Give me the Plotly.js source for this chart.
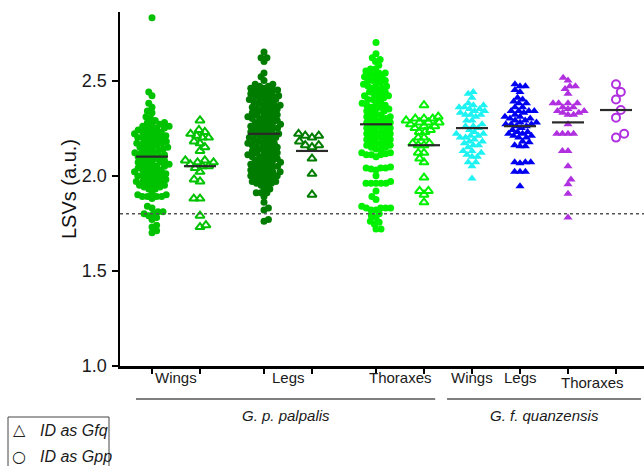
<!DOCTYPE html>
<html><head><meta charset="utf-8">
<script src="https://cdn.plot.ly/plotly-3.0.1.min.js"></script>
<style>html,body{margin:0;padding:0;background:#fff}</style>
</head><body><div id="chart" style="width:644px;height:466px"></div>
<script>
// ---------------- DATA ----------------
const tissues = ['Wings', 'Legs', 'Thoraxes', 'Wings', 'Legs', 'Thoraxes'];
const speciesLabels = ['G. p. palpalis', 'G. f. quanzensis'];
const legendLabels = ['ID as Gfq', 'ID as Gpp'];

// G. p. palpalis
const gppWingsIdGpp = [2.83, 2.44, 2.42, 2.38, 2.36, 2.34, 2.33, 2.31, 2.30, 2.29,
  2.28, 2.28, 2.27, 2.27, 2.26, 2.26, 2.25, 2.25, 2.25, 2.24, 2.24, 2.23, 2.23, 2.22, 2.22, 2.22,
  2.21, 2.21, 2.20, 2.20, 2.20, 2.19, 2.19, 2.18, 2.18, 2.17, 2.17, 2.17, 2.16, 2.16, 2.15, 2.15,
  2.15, 2.14, 2.14, 2.13, 2.13, 2.12, 2.12, 2.12, 2.11, 2.11, 2.10, 2.10, 2.10, 2.09, 2.09, 2.08,
  2.08, 2.07, 2.07, 2.07, 2.06, 2.06, 2.05, 2.05, 2.05, 2.04, 2.04, 2.03, 2.03, 2.02, 2.02, 2.02,
  2.01, 2.01, 2.00, 2.00, 2.00, 1.99, 1.99, 1.98, 1.98, 1.97, 1.97, 1.97, 1.96, 1.96, 1.95, 1.95,
  1.95, 1.94, 1.94, 1.93, 1.93,
  1.91, 1.90, 1.90, 1.89, 1.89, 1.89, 1.89, 1.88, 1.84, 1.83, 1.81, 1.81, 1.80, 1.80, 1.79, 1.78,
  1.77, 1.74, 1.73, 1.71, 1.70];
const gppWingsIdGfq = [2.29, 2.24, 2.23, 2.22, 2.21, 2.20, 2.20, 2.18, 2.17, 2.15, 2.13, 2.08, 2.08,
  2.07, 2.07, 2.06, 2.05, 2.05, 2.04, 2.02, 1.98, 1.97, 1.88, 1.88, 1.79, 1.74, 1.73];
const gppLegsIdGpp = [2.65, 2.62, 2.62, 2.60, 2.54, 2.52, 2.50, 2.48, 2.48, 2.47, 2.47,
  2.46, 2.46, 2.45, 2.45, 2.45, 2.44, 2.44, 2.43, 2.43, 2.42, 2.42, 2.42, 2.41, 2.41, 2.40, 2.40,
  2.40, 2.39, 2.39, 2.38, 2.38, 2.37, 2.37, 2.37, 2.36, 2.36, 2.35, 2.35, 2.35, 2.34, 2.34, 2.33,
  2.33, 2.32, 2.32, 2.32, 2.31, 2.31, 2.30, 2.30, 2.30, 2.29, 2.29, 2.28, 2.28, 2.27, 2.27, 2.27,
  2.26, 2.26, 2.25, 2.25, 2.25, 2.24, 2.24, 2.23, 2.23, 2.22, 2.22, 2.22, 2.21, 2.21, 2.20, 2.20,
  2.20, 2.19, 2.19, 2.18, 2.18, 2.17, 2.17, 2.17, 2.16, 2.16, 2.15, 2.15, 2.15, 2.14, 2.14, 2.13,
  2.13, 2.12, 2.12, 2.12, 2.11, 2.11, 2.10, 2.10, 2.10, 2.09, 2.09, 2.08, 2.08, 2.07, 2.07, 2.07,
  2.06, 2.06, 2.05, 2.05, 2.05, 2.04, 2.04, 2.03, 2.03, 2.02, 2.02, 2.02, 2.01, 2.01, 2.00, 2.00,
  2.00, 1.99, 1.99, 1.98, 1.98, 1.97, 1.97, 1.97, 1.96, 1.96, 1.95, 1.95,
  1.93, 1.93, 1.91, 1.91, 1.91, 1.89, 1.86, 1.83, 1.82, 1.77, 1.76];
const gppLegsIdGfq = [2.22, 2.21, 2.21, 2.20, 2.18, 2.16, 2.16, 2.15, 2.09, 2.01, 1.90];
const gppThoraxIdGpp = [2.70, 2.64, 2.62, 2.61, 2.60, 2.58, 2.56, 2.56,
  2.55, 2.54, 2.54, 2.53, 2.53, 2.52, 2.52, 2.51, 2.50, 2.50, 2.50, 2.49, 2.48,
  2.48, 2.47, 2.47, 2.46, 2.46, 2.45, 2.44, 2.44, 2.43, 2.43, 2.42, 2.42, 2.41,
  2.41, 2.40, 2.40, 2.39, 2.38, 2.38, 2.37, 2.37, 2.36, 2.36, 2.35, 2.35,
  2.34, 2.34, 2.33, 2.32, 2.32, 2.31, 2.31, 2.30, 2.30, 2.29, 2.29, 2.28, 2.28,
  2.27, 2.27, 2.26, 2.26, 2.25, 2.25, 2.24, 2.24, 2.23, 2.23, 2.22, 2.22, 2.21, 2.21,
  2.20, 2.20, 2.19, 2.19, 2.18, 2.18, 2.17, 2.17, 2.16, 2.16, 2.15, 2.15, 2.14, 2.14,
  2.12, 2.12, 2.115, 2.11, 2.11, 2.11, 2.10, 2.045, 2.04, 2.04, 2.04, 2.035, 2.03, 2.00, 1.97,
  1.96, 1.96, 1.96, 1.96, 1.96, 1.92, 1.89, 1.875, 1.84, 1.83, 1.83, 1.83, 1.83, 1.82, 1.82,
  1.80, 1.79, 1.78, 1.76, 1.755, 1.745, 1.72, 1.72];
const gppThoraxIdGfq = [2.37, 2.31, 2.30, 2.30, 2.30, 2.29, 2.28, 2.28, 2.28, 2.27, 2.26, 2.26,
  2.25, 2.24, 2.23, 2.23, 2.20, 2.20, 2.17, 2.17, 2.16, 2.16, 2.12, 2.12, 2.09, 2.07, 1.99,
  1.92, 1.92, 1.90, 1.86];
// G. f. quanzensis
const gfqWingsIdGfq = [2.44, 2.43, 2.41, 2.38, 2.37, 2.37, 2.36, 2.36, 2.35, 2.35, 2.34, 2.34,
  2.33, 2.32, 2.32, 2.32, 2.31, 2.29, 2.29, 2.27, 2.26, 2.26, 2.25, 2.24, 2.23, 2.22, 2.22, 2.21,
  2.21, 2.20, 2.20, 2.19, 2.18, 2.18, 2.17, 2.16, 2.16, 2.15, 2.13, 2.13, 2.12, 2.11, 2.10, 2.10,
  2.07, 2.07, 2.05, 1.985];
const gfqLegsIdGfq = [2.48, 2.47, 2.47, 2.45, 2.44, 2.41, 2.40, 2.39, 2.38, 2.38, 2.36, 2.36,
  2.34, 2.34, 2.34, 2.34, 2.33, 2.32, 2.31, 2.31, 2.30, 2.30, 2.29, 2.29, 2.28, 2.28, 2.27, 2.27,
  2.27, 2.26, 2.26, 2.25, 2.24, 2.23, 2.23, 2.22, 2.22, 2.21, 2.21, 2.20, 2.20, 2.18, 2.175,
  2.16, 2.155, 2.155, 2.07, 2.07, 2.07, 2.065, 2.02, 2.02, 2.02, 1.945];
const gfqThoraxIdGfq = [2.515, 2.50, 2.47, 2.47, 2.455, 2.43, 2.38, 2.38, 2.38, 2.38, 2.36, 2.36,
  2.35, 2.34, 2.34, 2.33, 2.33, 2.32, 2.32, 2.27, 2.22, 2.22, 2.22, 2.22, 2.13, 2.13, 2.05, 1.98,
  1.955, 1.905, 1.78];
const gfqThoraxIdGpp = [2.48, 2.44, 2.40, 2.345, 2.305, 2.22, 2.20];

// medians (horizontal bars)
const medians = [2.10, 2.05, 2.22, 2.13, 2.27, 2.16, 2.25, 2.26, 2.28, 2.345];
const threshold = 1.8;

const columns = [gppWingsIdGpp, gppWingsIdGfq, gppLegsIdGpp, gppLegsIdGfq, gppThoraxIdGpp,
  gppThoraxIdGfq, gfqWingsIdGfq, gfqLegsIdGfq, gfqThoraxIdGfq, gfqThoraxIdGpp];
const columnTissue = [0, 0, 1, 1, 2, 2, 3, 4, 5, 5];
const columnSpecies = [0, 0, 0, 0, 0, 0, 1, 1, 1, 1];

// ---------------- LAYOUT / STYLE ----------------
const W = 644, H = 466;
const M = {l: 120, r: 0, t: 12, b: 100};
const xRange = [-2, 30.75];
const yRange = [1, 2.86];
const slots = [0, 3, 7, 10, 14, 17, 20, 23, 26, 29];
const styles = [
  {color: '#00c200', symbol: 'circle', size: 7, lw: 0, swarm: 5.0},
  {color: '#00c200', symbol: 'triangle-up-open', size: 8, lw: 2, swarm: 6.2},
  {color: '#007d00', symbol: 'circle', size: 7, lw: 0, swarm: 4.8},
  {color: '#007d00', symbol: 'triangle-up-open', size: 8, lw: 2, swarm: 7},
  {color: '#00f000', symbol: 'circle', size: 7, lw: 0, swarm: 5.0},
  {color: '#00f000', symbol: 'triangle-up-open', size: 8, lw: 2, swarm: 5.8},
  {color: '#1ef2f2', symbol: 'triangle-up', size: 8, lw: 0, swarm: 5.4},
  {color: '#0000f0', symbol: 'triangle-up', size: 8, lw: 0, swarm: 5.4},
  {color: '#b030e0', symbol: 'triangle-up', size: 8, lw: 0, swarm: 5.6},
  {color: '#b030e0', symbol: 'circle-open', size: 8, lw: 2, swarm: 9}
];

const plotW = W - M.l - M.r, plotH = H - M.t - M.b;
const kx = plotW / (xRange[1] - xRange[0]);   // px per x unit
const ky = plotH / (yRange[1] - yRange[0]);   // px per y unit
const xPaper = x => (x - xRange[0]) / (xRange[1] - xRange[0]);
const pxX = px => (px - M.l) / plotW;
const pxY = py => (H - M.b - py) / plotH;

// beeswarm offsets (in x data units) computed from the values
function beeswarm(values, d) {
  const order = values.map((v, i) => i).sort((a, b) => values[a] - values[b]);
  const placed = [];
  const out = new Array(values.length);
  let flip = 1;
  order.forEach(i => {
    const y = values[i] * ky;
    const near = placed.filter(p => Math.abs(p.y - y) < d);
    const cands = [0];
    near.forEach(p => {
      const dx = Math.sqrt(d * d - (p.y - y) * (p.y - y));
      cands.push(p.x + dx, p.x - dx);
    });
    cands.sort((a, b) => (Math.abs(a) - Math.abs(b)) || (flip * (a - b)));
    let best = 0;
    for (const c of cands) {
      if (near.every(p => (c - p.x) * (c - p.x) + (p.y - y) * (p.y - y) >= d * d - 1e-6)) { best = c; break; }
    }
    flip = -flip;
    placed.push({x: best, y: y});
    out[i] = best / kx;
  });
  return out;
}

const traces = [];
columns.forEach((vals, c) => {
  const st = styles[c];
  const off = beeswarm(vals, st.swarm);
  traces.push({
    type: 'scatter', mode: 'markers',
    x: off.map(o => slots[c] + o), y: vals,
    marker: {symbol: st.symbol, size: st.size, color: st.color,
      line: {color: st.color, width: st.lw}},
    hoverinfo: 'skip', showlegend: false, cliponaxis: false
  });
});
medians.forEach((m, c) => {
  traces.push({
    type: 'scatter', mode: 'lines',
    x: [slots[c] - 1, slots[c] + 1], y: [m, m],
    line: {color: '#2a2a2a', width: 2.2},
    hoverinfo: 'skip', showlegend: false
  });
});

const font = 'Arial, "Liberation Sans", sans-serif';
const annotations = [];
const shapes = [];

// tissue labels, centred on the columns they cover
tissues.forEach((t, ti) => {
  const xs = slots.filter((s, c) => columnTissue[c] === ti);
  const xm = xs.reduce((a, b) => a + b, 0) / xs.length;
  annotations.push({
    xref: 'paper', yref: 'paper', x: xPaper(xm), y: pxY(ti === 5 ? 382 : 378),
    text: t, showarrow: false, xanchor: 'center', yanchor: 'middle',
    font: {family: font, size: 15, color: '#1a1a1a'}
  });
});

// species brackets
const spanPad = [[1, 0.7], [1.56, 1.56]];
speciesLabels.forEach((s, si) => {
  const xs = slots.filter((v, c) => columnSpecies[c] === si);
  const x0 = xPaper(Math.min(...xs) - spanPad[si][0]);
  const x1 = xPaper(Math.max(...xs) + spanPad[si][1]);
  shapes.push({type: 'line', xref: 'paper', yref: 'paper', x0: x0, x1: x1,
    y0: pxY(399), y1: pxY(399), line: {color: '#555', width: 1.3}});
  annotations.push({
    xref: 'paper', yref: 'paper', x: (x0 + x1) / 2, y: pxY(415),
    text: s, showarrow: false, xanchor: 'center', yanchor: 'middle',
    font: {family: font, size: 15, color: '#1a1a1a', style: 'italic'}
  });
});

// threshold
shapes.push({type: 'line', xref: 'paper', yref: 'y', x0: 0, x1: 1, y0: threshold, y1: threshold,
  line: {color: '#555', width: 1.3, dash: '3px,3px'}});

// legend box
shapes.push({type: 'rect', xref: 'paper', yref: 'paper', x0: pxX(8), x1: pxX(109),
  y0: pxY(475), y1: pxY(417), line: {color: '#444', width: 1}, fillcolor: 'rgba(0,0,0,0)'});
const legendSyms = ['\u25B3', '\u25CB'];
legendLabels.forEach((lab, i) => {
  const py = 430 + i * 27;
  annotations.push({xref: 'paper', yref: 'paper', x: pxX(19), y: pxY(py - 1), text: legendSyms[i],
    showarrow: false, xanchor: 'center', yanchor: 'middle',
    font: {family: '"DejaVu Sans", sans-serif', size: 16, color: '#222'}});
  annotations.push({xref: 'paper', yref: 'paper', x: pxX(38), y: pxY(py), text: lab,
    showarrow: false, xanchor: 'left', yanchor: 'middle',
    font: {family: font, size: 16, color: '#1a1a1a', style: 'italic'}});
});

const layout = {
  width: W, height: H, margin: M,
  paper_bgcolor: '#fff', plot_bgcolor: '#fff',
  showlegend: false,
  xaxis: {range: xRange, showgrid: false, zeroline: false, showline: true, linecolor: '#000',
    linewidth: 2.5, ticks: 'outside', ticklen: 5, tickwidth: 2, tickcolor: '#000',
    tickvals: slots, showticklabels: false, fixedrange: true},
  yaxis: {range: yRange, showgrid: false, zeroline: false, showline: true, linecolor: '#000',
    linewidth: 2.5, ticks: 'outside', ticklen: 6, tickwidth: 2, tickcolor: '#000',
    tickvals: [1, 1.5, 2, 2.5], tickformat: '.1f', ticklabelstandoff: 1,
    tickfont: {family: font, size: 18, color: '#1a1a1a'},
    title: {text: 'LSVs (a.u.)', font: {family: font, size: 20, color: '#111'}, standoff: 0},
    fixedrange: true},
  shapes: shapes, annotations: annotations
};

Plotly.newPlot('chart', traces, layout, {staticPlot: true, displayModeBar: false});
</script>
</body></html>
